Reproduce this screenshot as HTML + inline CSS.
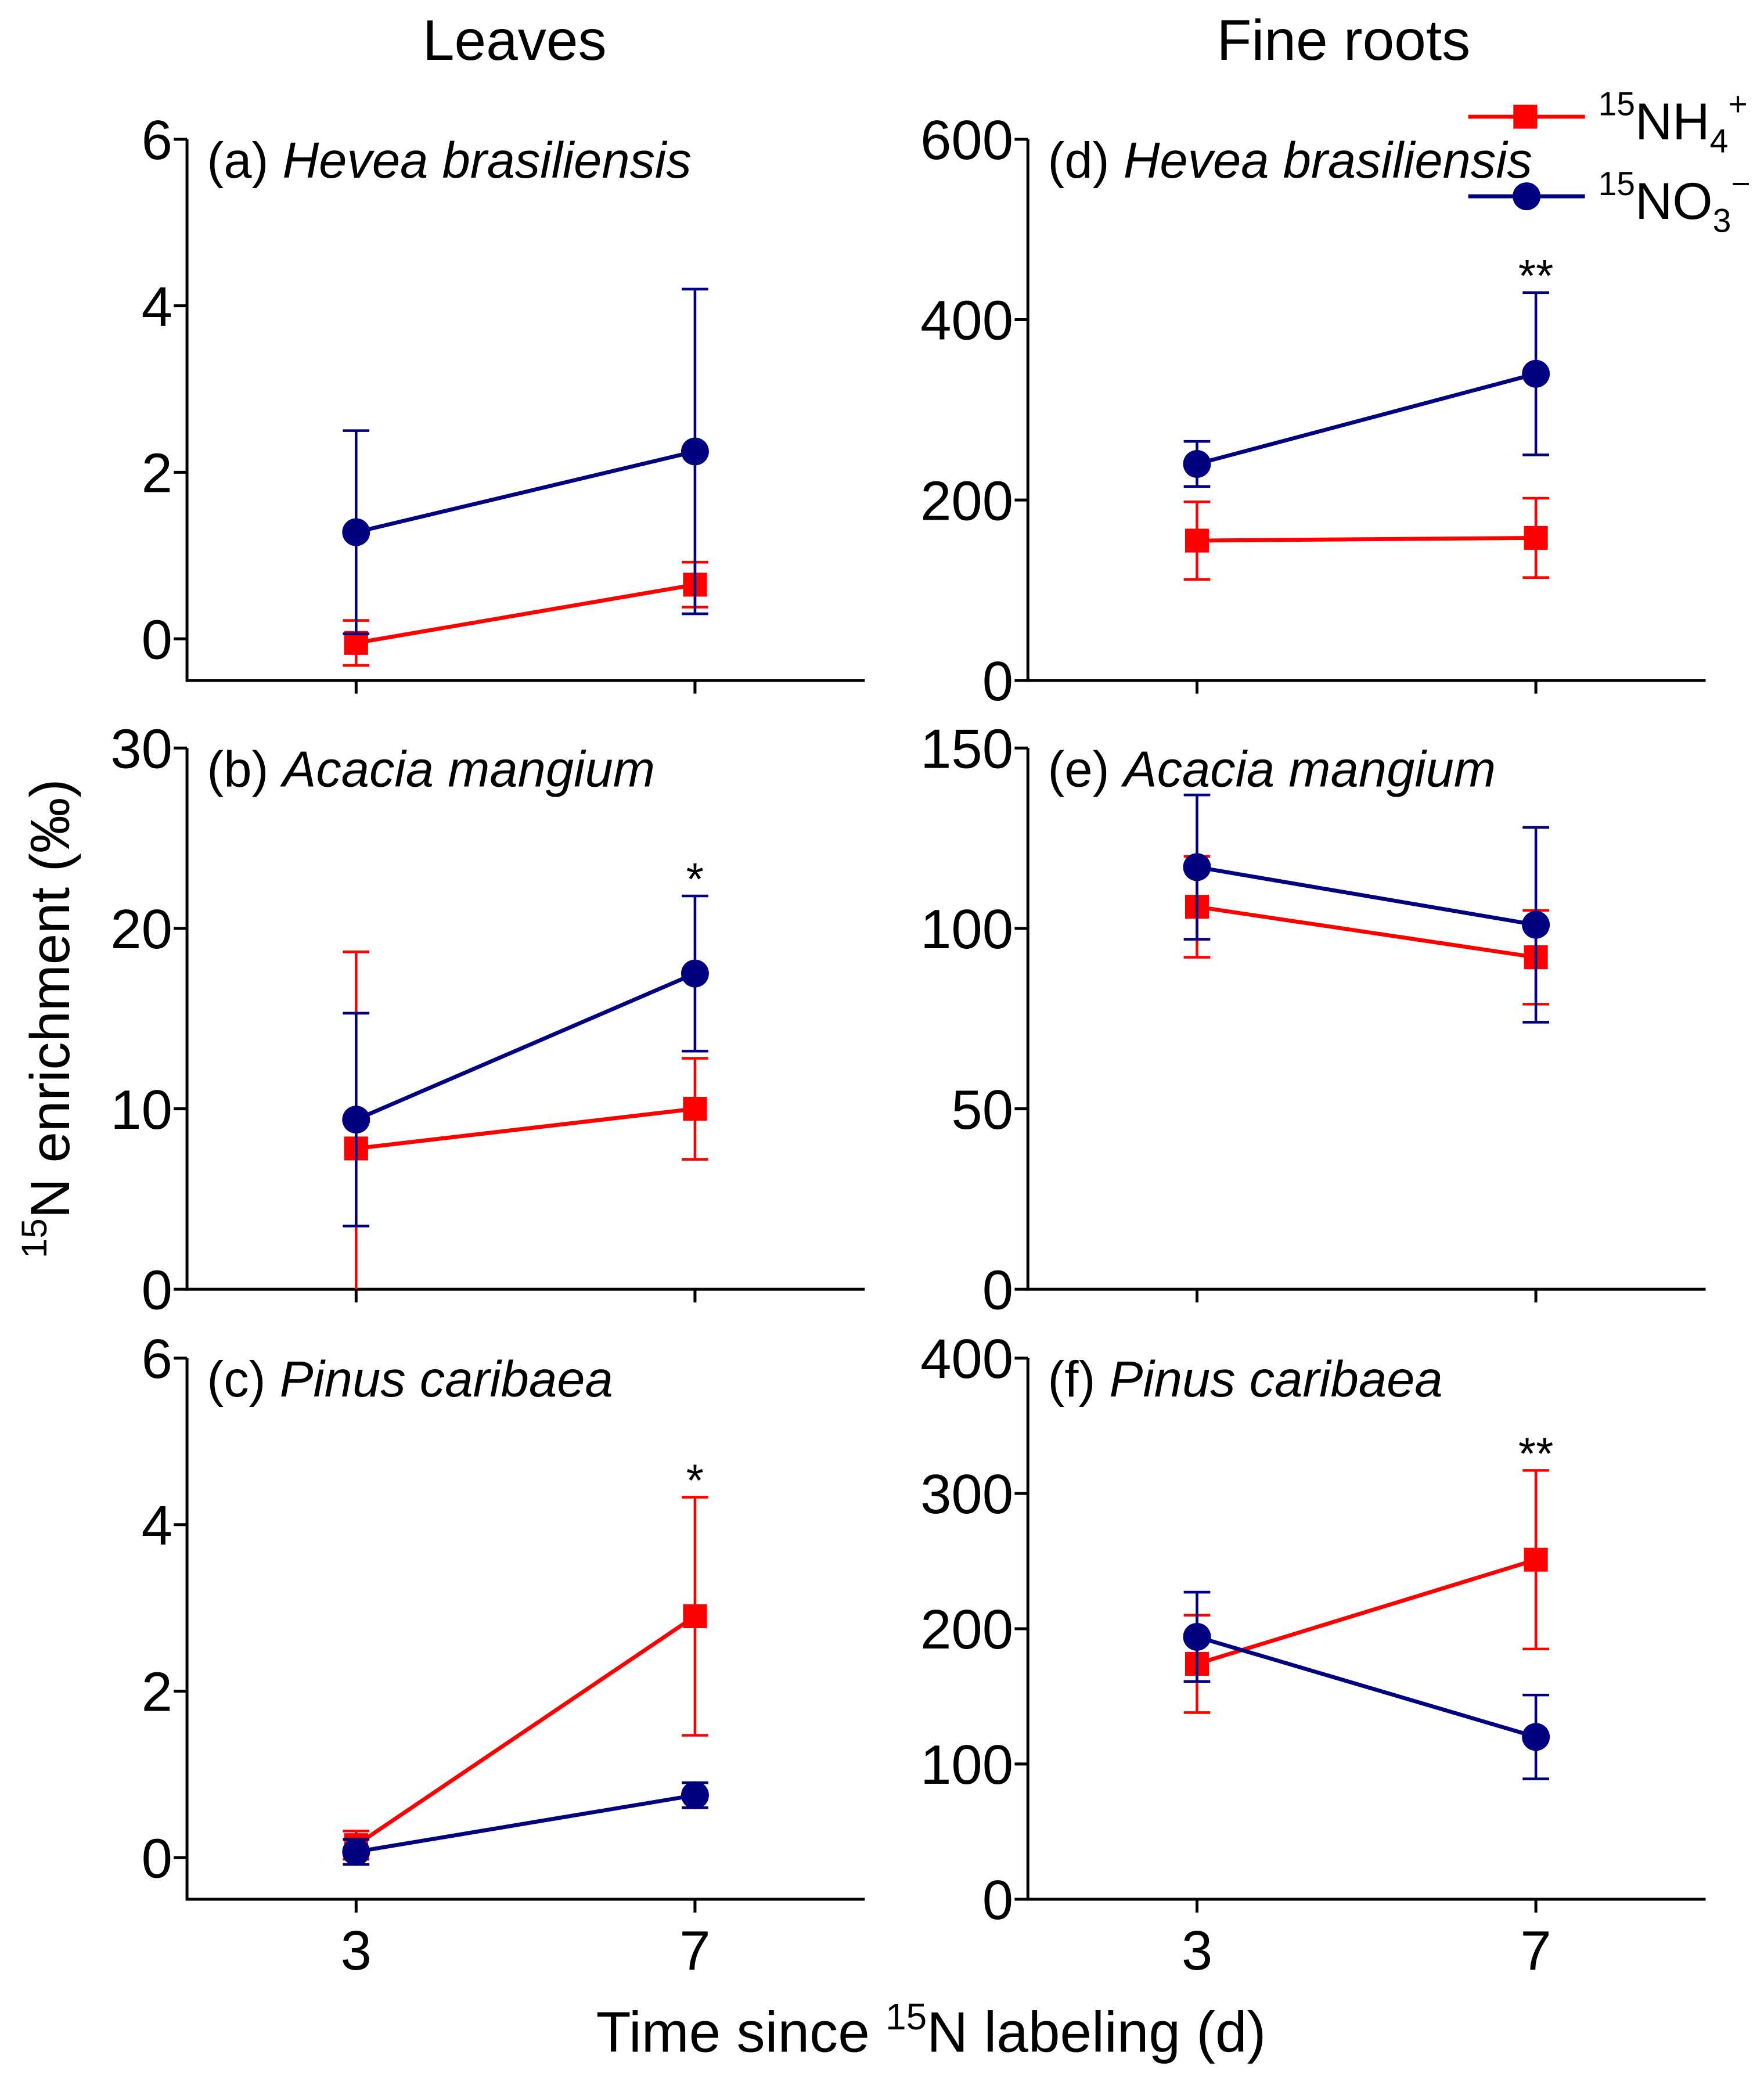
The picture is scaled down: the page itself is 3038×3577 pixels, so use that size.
<!DOCTYPE html>
<html><head><meta charset="utf-8"><style>
html,body{margin:0;padding:0;background:#fff}
svg{display:block}
text{font-family:"Liberation Sans",Arial,sans-serif;fill:#000}
</style></head><body>
<svg id="chart" width="3038" height="3577" viewBox="0 0 1330 1566" preserveAspectRatio="none" xmlns="http://www.w3.org/2000/svg">
<text x="388" y="45" font-size="43" text-anchor="middle">Leaves</text>
<text x="1013" y="45" font-size="43" text-anchor="middle">Fine roots</text>
<text transform="translate(52,768) rotate(-90)" font-size="42" text-anchor="middle"><tspan font-size="27" dy="-17">15</tspan><tspan dy="17">N enrichment (‰)</tspan></text>
<text x="702" y="1547" font-size="43" text-anchor="middle">Time since <tspan font-size="28" dy="-17">15</tspan><tspan dy="17">N labeling (d)</tspan></text>
<g>
 <line x1="1107" y1="88" x2="1195" y2="88" stroke="#ff0000" stroke-width="3"/>
 <rect x="1141" y="79" width="18" height="18" fill="#ff0000"/>
 <text x="1205" y="105" font-size="39"><tspan font-size="25" dy="-18">15</tspan><tspan dy="18">NH</tspan><tspan font-size="25" dy="10">4</tspan><tspan font-size="25" dy="-28">+</tspan></text>
 <line x1="1107" y1="148" x2="1195" y2="148" stroke="#000080" stroke-width="3"/>
 <circle cx="1151" cy="148" r="10.5" fill="#000080"/>
 <text x="1205" y="165" font-size="39"><tspan font-size="25" dy="-18">15</tspan><tspan dy="18">NO</tspan><tspan font-size="25" dy="10">3</tspan><tspan font-size="25" dy="-28">−</tspan></text>
</g>
<g id="plots"></g>
</svg>
<script>
const days = [3, 7];
const panelLabels = ['(a) ', '(b) ', '(c) ', '(d) ', '(e) ', '(f) '];
const speciesNames = ['Hevea brasiliensis', 'Acacia mangium', 'Pinus caribaea', 'Hevea brasiliensis', 'Acacia mangium', 'Pinus caribaea'];
const yMins = [-0.5, 0, -0.5, 0, 0, 0];
const yMaxs = [6, 30, 6, 600, 150, 400];
const yTicksA = [0, 2, 4, 6];
const yTicksB = [0, 10, 20, 30];
const yTicksC = [0, 2, 4, 6];
const yTicksD = [0, 200, 400, 600];
const yTicksE = [0, 50, 100, 150];
const yTicksF = [0, 100, 200, 300, 400];
const nh4A = [-0.05, 0.65]; const nh4ErrA = [0.27, 0.27];
const no3A = [1.28, 2.25]; const no3ErrA = [1.22, 1.95];
const nh4B = [7.8, 10.0]; const nh4ErrB = [10.9, 2.8];
const no3B = [9.4, 17.5]; const no3ErrB = [5.9, 4.3];
const nh4C = [0.15, 2.9]; const nh4ErrC = [0.17, 1.43];
const no3C = [0.07, 0.75]; const no3ErrC = [0.15, 0.15];
const nh4D = [155, 158]; const nh4ErrD = [43, 44];
const no3D = [240, 340]; const no3ErrD = [25, 90];
const nh4E = [106, 92]; const nh4ErrE = [14, 13];
const no3E = [117, 101]; const no3ErrE = [20, 27];
const nh4F = [174, 251]; const nh4ErrF = [36, 66];
const no3F = [194, 120]; const no3ErrF = [33, 31];
const sigMarks = [['', ''], ['', '*'], ['', '*'], ['', '**'], ['', ''], ['', '**']];

const ticksAll = [yTicksA, yTicksB, yTicksC, yTicksD, yTicksE, yTicksF];
const nh4All = [nh4A, nh4B, nh4C, nh4D, nh4E, nh4F];
const nh4ErrAll = [nh4ErrA, nh4ErrB, nh4ErrC, nh4ErrD, nh4ErrE, nh4ErrF];
const no3All = [no3A, no3B, no3C, no3D, no3E, no3F];
const no3ErrAll = [no3ErrA, no3ErrB, no3ErrC, no3ErrD, no3ErrE, no3ErrF];

const NS = 'http://www.w3.org/2000/svg';
const root = document.getElementById('plots');
function mk(tag, attrs, parent) {
  const e = document.createElementNS(NS, tag);
  for (const k in attrs) e.setAttribute(k, attrs[k]);
  parent.appendChild(e);
  return e;
}
const panelTop = [105, 564, 1024];
const panelBot = [513, 972, 1432];
const colX0 = [141, 775];
const colW = 511;
const RED = '#ff0000', BLUE = '#000080';

for (let p = 0; p < 6; p++) {
  const col = p < 3 ? 0 : 1, row = p % 3;
  const g = mk('g', {}, root);
  
  
  const x0 = colX0[col], top = panelTop[row], bot = panelBot[row];
  const y = v => bot - (v - yMins[p]) / (yMaxs[p] - yMins[p]) * (bot - top);
  const x = d => x0 + 127.5 + (d - 3) / 4 * 255.5;
  const ax = mk('path', {d: `M${x0},${top} V${bot} H${x0 + colW}`, fill: 'none', stroke: '#000', 'stroke-width': 2.2}, g);
  
  
  ticksAll[p].forEach(t => {
    mk('line', {x1: x0 - 10, x2: x0, y1: y(t), y2: y(t), stroke: '#000', 'stroke-width': 2.2}, g);
    const tx = mk('text', {x: x0 - 11, y: y(t) + 15, 'font-size': 42, 'text-anchor': 'end'}, g);
    tx.textContent = t;
    
    
  });
  days.forEach(d => {
    mk('line', {x1: x(d), x2: x(d), y1: bot, y2: bot + 10, stroke: '#000', 'stroke-width': 2.2}, g);
    if (row === 2) {
      const tx = mk('text', {x: x(d), y: bot + 53, 'font-size': 42, 'text-anchor': 'middle'}, g);
      tx.textContent = d;
      
      
    }
  });
  const tl = mk('text', {x: x0 + 15, y: top + 29, 'font-size': 38}, g);
  
  
  const t1 = mk('tspan', {}, tl); t1.textContent = panelLabels[p];
  const t2 = mk('tspan', {'font-style': 'italic'}, tl); t2.textContent = speciesNames[p];

  const series = [[nh4All[p], nh4ErrAll[p], RED, 'nh4'], [no3All[p], no3ErrAll[p], BLUE, 'no3']];
  series.forEach(([vals, errs, c, nm]) => {
    const ln = mk('line', {x1: x(days[0]), y1: y(vals[0]), x2: x(days[1]), y2: y(vals[1]), stroke: c, 'stroke-width': 3}, g);
    
    
  });
  series.forEach(([vals, errs, c, nm]) => {
    vals.forEach((v, i) => {
      const cx = x(days[i]);
      const lo = y(v - errs[i]), hi = y(v + errs[i]);
      const eb = mk('path', {d: `M${cx},${Math.min(lo, bot)} V${hi} M${cx - 10},${hi} H${cx + 10}` + (lo <= bot ? ` M${cx - 10},${lo} H${cx + 10}` : ''), stroke: c, 'stroke-width': 2, fill: 'none'}, g);
      
      
      let m;
      if (nm === 'nh4') m = mk('rect', {x: cx - 9, y: y(v) - 9, width: 18, height: 18, fill: c}, g);
      else m = mk('circle', {cx: cx, cy: y(v), r: 10.5, fill: c}, g);
      
      
    });
  });
  days.forEach((d, i) => {
    if (!sigMarks[p][i]) return;
    const topV = Math.max(nh4All[p][i] + nh4ErrAll[p][i], no3All[p][i] + no3ErrAll[p][i]);
    const s = mk('text', {x: x(d), y: y(topV) - 1, 'font-size': 34, 'text-anchor': 'middle'}, g);
    s.textContent = sigMarks[p][i];
    
    
  });
}
</script>
</body></html>
